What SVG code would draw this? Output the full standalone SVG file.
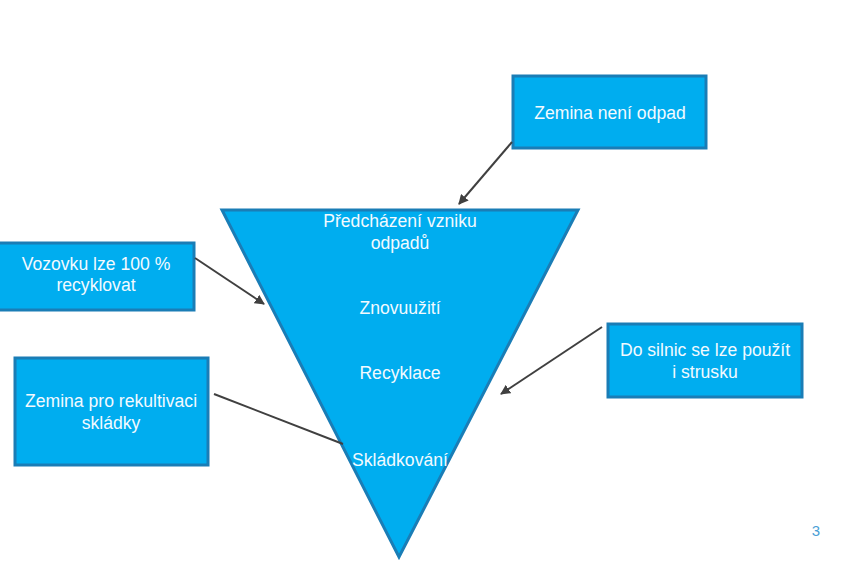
<svg xmlns="http://www.w3.org/2000/svg" width="851" height="567" viewBox="0 0 851 567">
<defs>
<style>
.box{fill:#00adef;stroke:#1a7db6;stroke-width:3}
.t{font-family:"Liberation Sans",Arial,sans-serif;font-size:17.6px;fill:#f2faff;text-anchor:middle}
.c{stroke:#404040;stroke-width:2;fill:none}
</style>
<marker id="ah" viewBox="0 0 10 10" refX="9" refY="5" markerWidth="5" markerHeight="5" orient="auto" markerUnits="strokeWidth">
<path d="M0,0 L10,5 L0,10 z" fill="#404040"/>
</marker>
</defs>
<rect width="851" height="567" fill="#ffffff"/>
<g id="pyramid">
<polygon class="box" points="222,210 578,210 399,557"/>
<text class="t" x="400" y="227">Předcházení vzniku</text>
<text class="t" x="400" y="249">odpadů</text>
<text class="t" x="400" y="314">Znovuužití</text>
<text class="t" x="400" y="379">Recyklace</text>
<text class="t" x="400" y="466">Skládkování</text>
</g>
<g id="n-zemina-neni">
<rect class="box" x="513" y="76" width="193" height="72"/>
<text class="t" x="610" y="119">Zemina není odpad</text>
</g>
<g id="n-vozovku">
<rect class="box" x="-2" y="243" width="196" height="67"/>
<text class="t" x="96" y="270">Vozovku lze 100 %</text>
<text class="t" x="96" y="291">recyklovat</text>
</g>
<g id="n-zemina-rek">
<rect class="box" x="15" y="358" width="193" height="107"/>
<text class="t" x="111" y="407">Zemina pro rekultivaci</text>
<text class="t" x="111" y="429">skládky</text>
</g>
<g id="n-silnice">
<rect class="box" x="608" y="324" width="194" height="73"/>
<text class="t" x="705" y="356">Do silnic se lze použít</text>
<text class="t" x="705" y="378">i strusku</text>
</g>
<g id="connectors">
<line class="c" x1="512" y1="142" x2="459" y2="204" marker-end="url(#ah)"/>
<line class="c" x1="195" y1="258" x2="264" y2="304" marker-end="url(#ah)"/>
<line class="c" x1="214" y1="394" x2="343" y2="444"/>
<line class="c" x1="602" y1="327" x2="501" y2="394" marker-end="url(#ah)"/>
</g>
<text x="816" y="536" style="font-family:'Liberation Sans',Arial,sans-serif;font-size:15px;fill:#4a9fd6;text-anchor:middle">3</text>
</svg>
